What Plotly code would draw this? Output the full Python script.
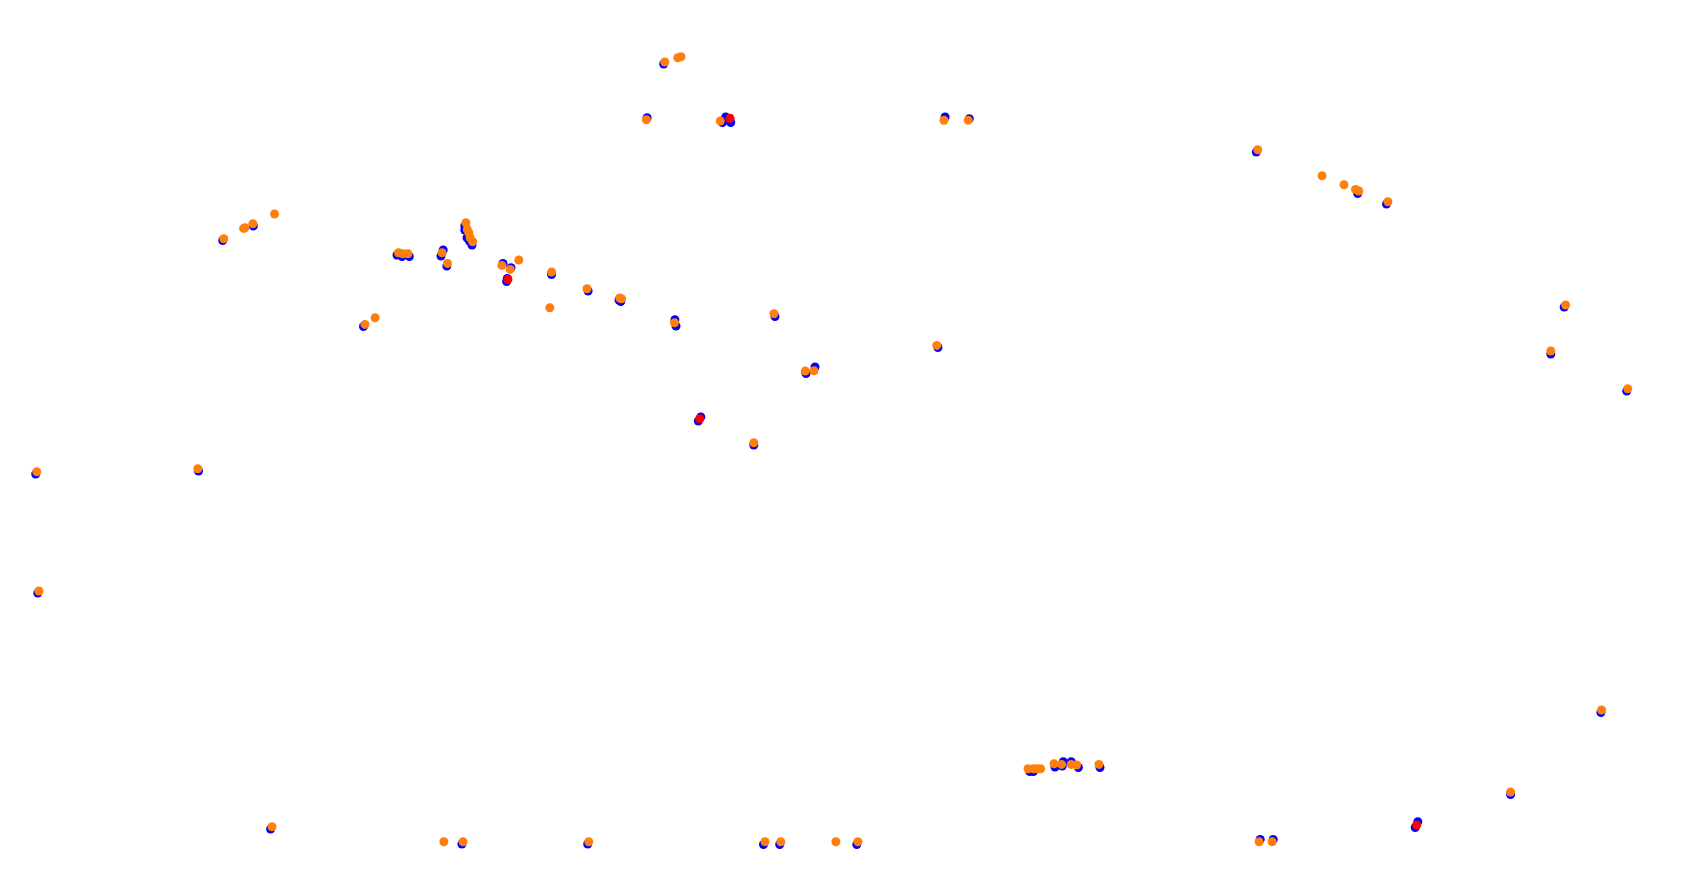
import plotly.graph_objects as go

# Point positions (same units as the page, y downward)
blue_x = [222.7, 253.3, 397.0, 402.0, 409.3, 443.2, 441.0, 446.8,
          464.8, 464.8, 467.0, 469.5, 472.0, 503.0, 511.0, 507.3, 506.6,
          551.6, 363.5,
          663.7, 647.1, 722.5, 730.7, 725.7, 945.1, 969.3, 588.1, 619.0, 620.8,
          674.9, 676.0, 775.0, 937.9, 806.0, 815.0, 700.8, 698.3, 753.8,
          1256.3, 1357.7, 1386.5, 1564.2, 1550.8, 1626.7,
          35.7, 198.5, 37.8, 270.6, 461.9,
          587.7, 763.5, 779.7, 856.8, 1029.8, 1033.4,
          1055.0, 1062.2, 1063.3, 1071.2, 1078.4, 1100.0,
          1600.9, 1510.6, 1417.8, 1415.2, 1260.2, 1273.2]
blue_y = [239.5, 225.0, 254.0, 255.5, 255.5, 249.0, 255.0, 265.0,
          225.0, 229.0, 236.7, 240.0, 244.0, 262.4, 266.7, 277.4, 280.5,
          273.5, 325.5,
          63.0, 116.7, 121.5, 121.5, 116.0, 116.0, 117.7, 290.0, 299.0, 300.5,
          318.7, 325.0, 315.5, 346.5, 372.5, 366.0, 416.0, 420.0, 444.0,
          151.0, 192.5, 203.0, 306.0, 353.0, 390.0,
          473.0, 470.0, 592.0, 828.0, 843.0,
          843.0, 843.5, 843.5, 843.5, 770.5, 770.5,
          766.0, 765.0, 760.7, 760.7, 766.5, 766.5,
          711.5, 793.5, 820.7, 826.5, 838.4, 838.4]

orange_x = [223.7, 243.6, 245.0, 252.9, 274.5, 398.5, 402.8, 407.9,
            442.1, 447.5, 465.9, 467.3, 468.8, 470.2, 472.7,
            501.9, 510.2, 518.8, 551.6, 549.8, 365.0, 375.1,
            664.8, 677.8, 681.0, 646.4, 720.3, 944.0, 968.2, 587.0, 619.8, 621.6,
            674.5, 774.0, 936.8, 805.3, 814.0, 753.8,
            1257.7, 1322.1, 1344.0, 1355.5, 1358.8, 1387.9, 1565.6, 1550.8, 1627.8,
            36.8, 197.8, 38.9, 272.0, 443.9, 463.0,
            588.8, 765.0, 780.8, 835.9, 857.9,
            1028.0, 1033.4, 1037.0, 1040.6, 1054.0, 1061.5, 1071.2, 1076.6, 1099.0,
            1601.6, 1510.6, 1259.1, 1272.1]
orange_y = [237.7, 227.4, 226.7, 222.7, 213.0, 251.7, 252.7, 252.7,
            251.7, 262.4, 221.7, 228.4, 231.7, 236.7, 240.7,
            264.4, 268.4, 259.0, 271.0, 306.7, 323.4, 316.7,
            61.0, 56.7, 55.7, 118.7, 120.0, 119.3, 119.3, 287.7, 297.0, 297.7,
            321.7, 312.7, 344.4, 370.0, 369.7, 441.7,
            148.7, 174.7, 183.7, 188.4, 190.0, 200.7, 304.0, 350.0, 387.7,
            470.7, 467.7, 590.0, 825.7, 840.7, 840.7,
            840.7, 840.7, 840.7, 840.7, 840.7,
            767.7, 767.7, 767.7, 767.7, 762.7, 763.4, 763.4, 764.0, 763.4,
            709.0, 791.0, 840.7, 840.7]

red_x = [730.0, 508.0, 699.8, 1416.7]
red_y = [117.3, 278.4, 417.7, 824.0]

fig = go.Figure()
fig.add_trace(go.Scatter(x=blue_x, y=blue_y, mode="markers",
                         marker=dict(color="#0000ff", size=9, line=dict(width=0))))
fig.add_trace(go.Scatter(x=orange_x, y=orange_y, mode="markers",
                         marker=dict(color="#ff7f0e", size=9, line=dict(width=0))))
fig.add_trace(go.Scatter(x=red_x, y=red_y, mode="markers",
                         marker=dict(color="#ff0000", size=9, line=dict(width=0))))

fig.update_layout(
    width=1694, height=880,
    margin=dict(l=0, r=0, t=0, b=0),
    paper_bgcolor="white", plot_bgcolor="white",
    showlegend=False,
    xaxis=dict(range=[0, 1694], visible=False, fixedrange=True),
    yaxis=dict(range=[879, -1], visible=False, fixedrange=True),
)

fig.write_html("out.html", config={"displayModeBar": False},
               post_script="document.body.style.margin='0';document.body.style.overflow='hidden';")
